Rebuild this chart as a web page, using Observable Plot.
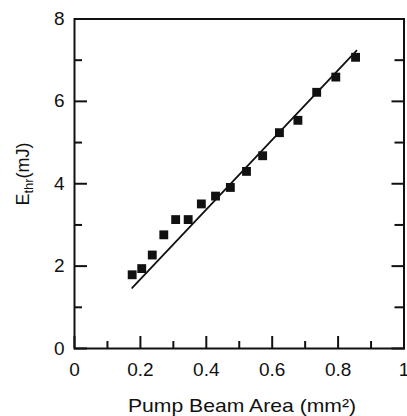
<!DOCTYPE html>
<html><head><meta charset="utf-8">
<script src="https://cdn.jsdelivr.net/npm/d3@7"></script>
<script src="https://cdn.jsdelivr.net/npm/@observablehq/plot@0.6"></script>
<style>html,body{margin:0;padding:0;background:#fff}svg{display:block}</style>
</head><body><div id="chart"></div>
<script>
// Data
const area = [0.175, 0.204, 0.236, 0.271, 0.307, 0.345, 0.385, 0.428, 0.473, 0.522, 0.571, 0.622, 0.678, 0.735, 0.793, 0.853];
const energy = [1.79, 1.94, 2.27, 2.76, 3.13, 3.13, 3.51, 3.70, 3.91, 4.30, 4.68, 5.24, 5.54, 6.22, 6.59, 7.07];
const fitArea = [0.175, 0.856];
const fitEnergy = [1.47, 7.23];
const xMajor = [0, 0.2, 0.4, 0.6, 0.8, 1];
const xMinor = [0.1, 0.3, 0.5, 0.7, 0.9];
const yMajor = [0, 2, 4, 6, 8];
const yMinor = [1, 3, 5, 7];
const xLabel = "Pump Beam Area (mm²)";
const yLabelMain = "E";
const yLabelSub = "thr";
const yLabelUnit = "(mJ)";

const points = area.map((a, i) => ({a, e: energy[i]}));
const fit = fitArea.map((a, i) => ({a, e: fitEnergy[i]}));
const ink = "#111";
const font = "'Liberation Sans', Arial, Helvetica, sans-serif";
const blank = () => "";

const plot = Plot.plot({
  width: 407, height: 416,
  marginLeft: 74, marginRight: 3.5, marginTop: 18.5, marginBottom: 68,
  style: {fontFamily: font, fontSize: "19px", color: ink, background: "#fff"},
  x: {domain: [0, 1]},
  y: {domain: [0, 8]},
  marks: [
    Plot.axisX(xMajor, {tickSize: 0, tickPadding: 14, label: null, tickFormat: d => String(d), fontSize: 19}),
    Plot.axisX(xMajor, {tickSize: -12, strokeWidth: 2, label: null, tickFormat: blank}),
    Plot.axisX(xMinor, {tickSize: -7, strokeWidth: 2, label: null, tickFormat: blank}),
    Plot.axisY(yMajor, {tickSize: 0, tickPadding: 10, label: null, tickFormat: d => String(d), fontSize: 19}),
    Plot.axisY(yMajor, {tickSize: -13, strokeWidth: 2, label: null, tickFormat: blank}),
    Plot.axisY(yMinor, {tickSize: -8, strokeWidth: 2, label: null, tickFormat: blank}),
    Plot.axisY(yMajor, {anchor: "right", tickSize: -13, strokeWidth: 2, label: null, tickFormat: blank}),
    Plot.axisY(yMinor, {anchor: "right", tickSize: -10, strokeWidth: 2, label: null, tickFormat: blank}),
    Plot.line(fit, {x: "a", y: "e", stroke: ink, strokeWidth: 1.8}),
    Plot.dot(points, {x: "a", y: "e", symbol: "square", r: 5, fill: ink, stroke: "none"}),
    Plot.frame({stroke: ink, strokeWidth: 2})
  ]
});
document.getElementById("chart").appendChild(plot);

const svg = d3.select(plot);
svg.append("text")
  .attr("x", 242).attr("y", 412)
  .attr("text-anchor", "middle")
  .attr("font-family", font).attr("font-size", 18.5).attr("fill", ink)
  .attr("textLength", 228).attr("lengthAdjust", "spacingAndGlyphs")
  .text(xLabel);

const yl = svg.append("text")
  .attr("transform", "translate(29,174) rotate(-90)")
  .attr("text-anchor", "middle")
  .attr("font-family", font).attr("font-size", 18).attr("fill", ink);
yl.append("tspan").text(yLabelMain);
yl.append("tspan").attr("font-size", 13).attr("dy", 4).text(yLabelSub);
yl.append("tspan").attr("dy", -4).text(yLabelUnit);
</script>
</body></html>
